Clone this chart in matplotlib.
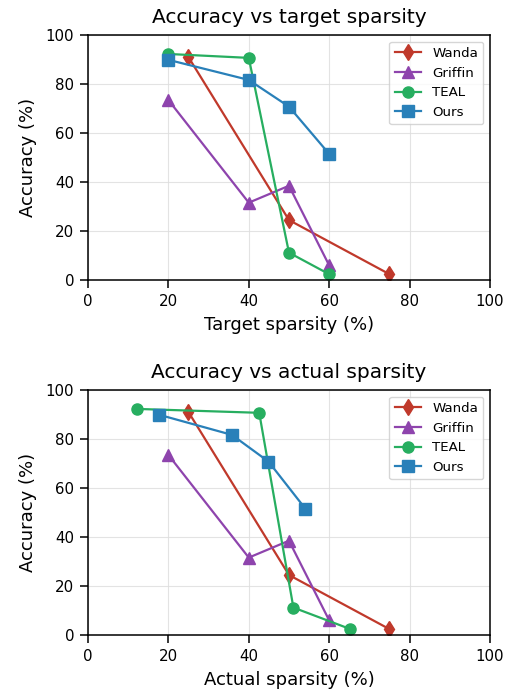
import matplotlib
matplotlib.use("Agg")
import matplotlib.pyplot as plt

methods = ["Wanda", "Griffin", "TEAL", "Ours"]
colors = ["#c0392b", "#8e44ad", "#27ae60", "#2980b9"]
markers = ["d", "^", "o", "s"]

target_x = {
    "Wanda": [25, 50, 75],
    "Griffin": [20, 40, 50, 60],
    "TEAL": [20, 40, 50, 60],
    "Ours": [20, 40, 50, 60],
}
actual_x = {
    "Wanda": [25, 50, 75],
    "Griffin": [20, 40, 50, 60],
    "TEAL": [12.1, 42.6, 51.1, 65.3],
    "Ours": [17.7, 35.8, 44.9, 54.1],
}
accuracy = {
    "Wanda": [91.0, 24.5, 2.4],
    "Griffin": [73.5, 31.6, 38.5, 6.0],
    "TEAL": [92.3, 90.7, 11.2, 2.4],
    "Ours": [89.9, 81.7, 70.8, 51.5],
}

fig = plt.figure(figsize=(5.13, 6.95), dpi=100)
ax1 = fig.add_axes([0.1715, 0.597, 0.7836, 0.3525])
ax2 = fig.add_axes([0.1715, 0.0863, 0.7836, 0.3525])

panels = [
    (ax1, target_x, "Target sparsity (%)", "Accuracy vs target sparsity"),
    (ax2, actual_x, "Actual sparsity (%)", "Accuracy vs actual sparsity"),
]
for ax, xs, xlabel, title in panels:
    for m, c, mk in zip(methods, colors, markers):
        ax.plot(xs[m], accuracy[m], color=c, marker=mk, markersize=8,
                linewidth=1.6, label=m)
    ax.set_xlim(0, 100)
    ax.set_ylim(0, 100)
    ax.set_xticks(range(0, 101, 20))
    ax.set_yticks(range(0, 101, 20))
    ax.grid(True, color="#dddddd", linewidth=0.8, alpha=0.8)
    ax.set_axisbelow(True)
    ax.set_xlabel(xlabel, fontsize=13, labelpad=5)
    ax.set_ylabel("Accuracy (%)", fontsize=13, labelpad=6)
    ax.set_title(title, fontsize=14.5, pad=9)
    ax.tick_params(labelsize=10.8, length=5.5, width=1.1, pad=4.5)
    for s in ax.spines.values():
        s.set_linewidth(1.1)
    ax.legend(loc="upper right", fontsize=9.6, handlelength=2.0)

fig.savefig("out.png", dpi=100)
